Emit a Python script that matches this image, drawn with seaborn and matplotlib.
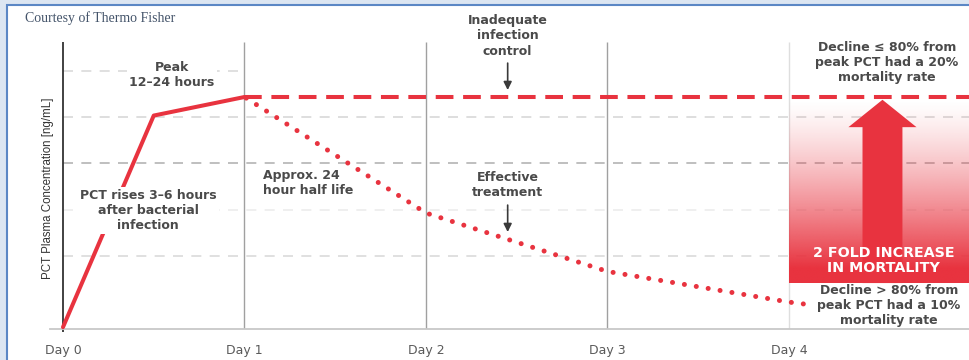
import numpy as np
import seaborn as sns
import matplotlib.pyplot as plt
import matplotlib.patches as mpatches
from matplotlib.colors import to_rgb

# chart values (x in days, y in arbitrary PCT units)
day_ticks = [0, 1, 2, 3, 4]
day_labels = ['Day 0', 'Day 1', 'Day 2', 'Day 3', 'Day 4']

rise_day = [0.0, 0.5, 1.0]
rise_pct = [0.04, 4.6, 5.0]

plateau_day = [1.0, 5.0]
plateau_pct = [5.0, 5.0]

decline_day = [1.0, 2.0, 3.0, 4.0, 4.08]
decline_pct = [5.0, 2.5, 1.24, 0.58, 0.54]

grid_levels = [5.56, 4.57, 3.58, 2.56, 1.57]
grid_colors = ['#dadada', '#d8d8d8', '#b4b4b4', '#ececec', '#dadada']
grid_ends = [1.0, 5.0, 5.0, 5.0, 5.0]

RED = '#e8333f'
TXT = '#4a4a4a'

sns.set_theme(style='white')
plt.rcParams['font.family'] = ['DejaVu Sans']

fig = plt.figure(figsize=(9.7, 3.6), dpi=100, facecolor='#dce6f2')
frame = mpatches.Rectangle((7 / 970, -0.02), 1.0, 355 / 360 + 0.02, transform=fig.transFigure,
                           facecolor='white', edgecolor='#5b87c5', lw=1.5, zorder=-5)
fig.patches.append(frame)

ax = fig.add_axes([50 / 970, 31 / 360, 920 / 970, 329 / 360])
ax.set_facecolor('none')

# grid
for lvl, c, xe in zip(grid_levels, grid_colors, grid_ends):
    ax.hlines(lvl, 0, xe, colors=c, lw=1.2, linestyles=(0, (6, 5)), zorder=1)
ax.vlines(0, -0.07, 6.19, color='#333333', lw=1.3, zorder=1.5, clip_on=False)
ax.vlines([1, 2, 3], 0, 6.19, color='#a0a0a0', lw=1.0, zorder=1.5)
ax.vlines(4, 0, 6.19, color='#dedede', lw=1.0, zorder=1.5)

# mortality box with gradient
box_top, box_bot, solid_at = 4.94, 0.99, 1.31
ys = np.linspace(box_top, box_bot, 300)
alpha = np.clip((box_top - ys) / (box_top - solid_at), 0, 1) ** 1.3
rgba = np.zeros((300, 1, 4))
rgba[..., :3] = to_rgb(RED)
rgba[..., 3] = alpha[:, None]
ax.imshow(rgba, extent=[4.0, 5.0, box_bot, box_top], aspect='auto', zorder=2,
          interpolation='bilinear')
ax.add_patch(mpatches.FancyArrow(4.515, box_bot, 0, box_top - box_bot, width=0.22,
                                 head_width=0.375, head_length=0.59,
                                 length_includes_head=True, color=RED, lw=0, zorder=3))

# curves
sns.lineplot(x=rise_day, y=rise_pct, ax=ax, color=RED, lw=2.9, zorder=4)
sns.lineplot(x=plateau_day, y=plateau_pct, ax=ax, color=RED, lw=2.9,
             linestyle=(0, (4.4, 2.4)), zorder=4)
sns.lineplot(x=decline_day, y=decline_pct, ax=ax, color=RED, lw=3.6,
             linestyle=(2.0, (0.01, 2.4)), dash_capstyle='round', zorder=4)

# annotations
kw = dict(ha='center', va='center', fontsize=9, fontweight='bold', color=TXT,
          linespacing=1.2, zorder=5)
wbox = dict(fc='white', ec='none', pad=1.5)
ax.text(0.60, 5.48, 'Peak\n12–24 hours', bbox=wbox, **kw)
ax.text(0.47, 2.56, 'PCT rises 3–6 hours\nafter bacterial\ninfection', bbox=wbox, **kw)
ax.text(1.10, 3.14, 'Approx. 24\nhour half life', **{**kw, 'ha': 'left'})
ax.text(2.45, 6.32, 'Inadequate\ninfection\ncontrol', **{**kw, 'linespacing': 1.25})
ax.text(2.45, 3.11, 'Effective\ntreatment', **kw)
ax.text(4.54, 5.75, 'Decline ≤ 80% from\npeak PCT had a 20%\nmortality rate', **kw)
ax.text(4.55, 0.50, 'Decline > 80% from\npeak PCT had a 10%\nmortality rate', **kw)
ax.text(4.52, 1.47, '2 FOLD INCREASE\nIN MORTALITY', **{**kw, 'color': 'white', 'fontsize': 10.3,
                                                       'linespacing': 1.1})
arr = dict(arrowstyle='-|>', color='#3a3a3a', lw=1.2, mutation_scale=12, shrinkA=0, shrinkB=0)
ax.annotate('', xy=(2.45, 5.15), xytext=(2.45, 5.73), arrowprops=arr)
ax.annotate('', xy=(2.45, 2.09), xytext=(2.45, 2.67), arrowprops=arr)

# axes styling
ax.set_xlim(-13 / 181.5, 907 / 181.5)
ax.set_ylim(0, 329 / 46.4)
sns.despine(ax=ax, left=True)
ax.spines['bottom'].set_color('#c8c8c8')
ax.spines['bottom'].set_linewidth(1.3)
ax.set_xticks(day_ticks, day_labels)
ax.set_yticks([])
ax.tick_params(axis='x', length=0, pad=10.5, labelsize=9, labelcolor='#5a5a5a')
ax.grid(False)
ax.set_ylabel('PCT Plasma Concentration [ng/mL]', family=['Liberation Sans Narrow', 'Liberation Sans'],
              fontsize=8.3, color='#333333')
ax.yaxis.set_label_coords(0.0043, 141 / 329)

fig.text(25 / 970, 1 - 18 / 360, 'Courtesy of Thermo Fisher', family=['Liberation Serif'],
         fontsize=10, color='#44546a', va='center')

fig.savefig('out.png', dpi=100, facecolor=fig.get_facecolor())
